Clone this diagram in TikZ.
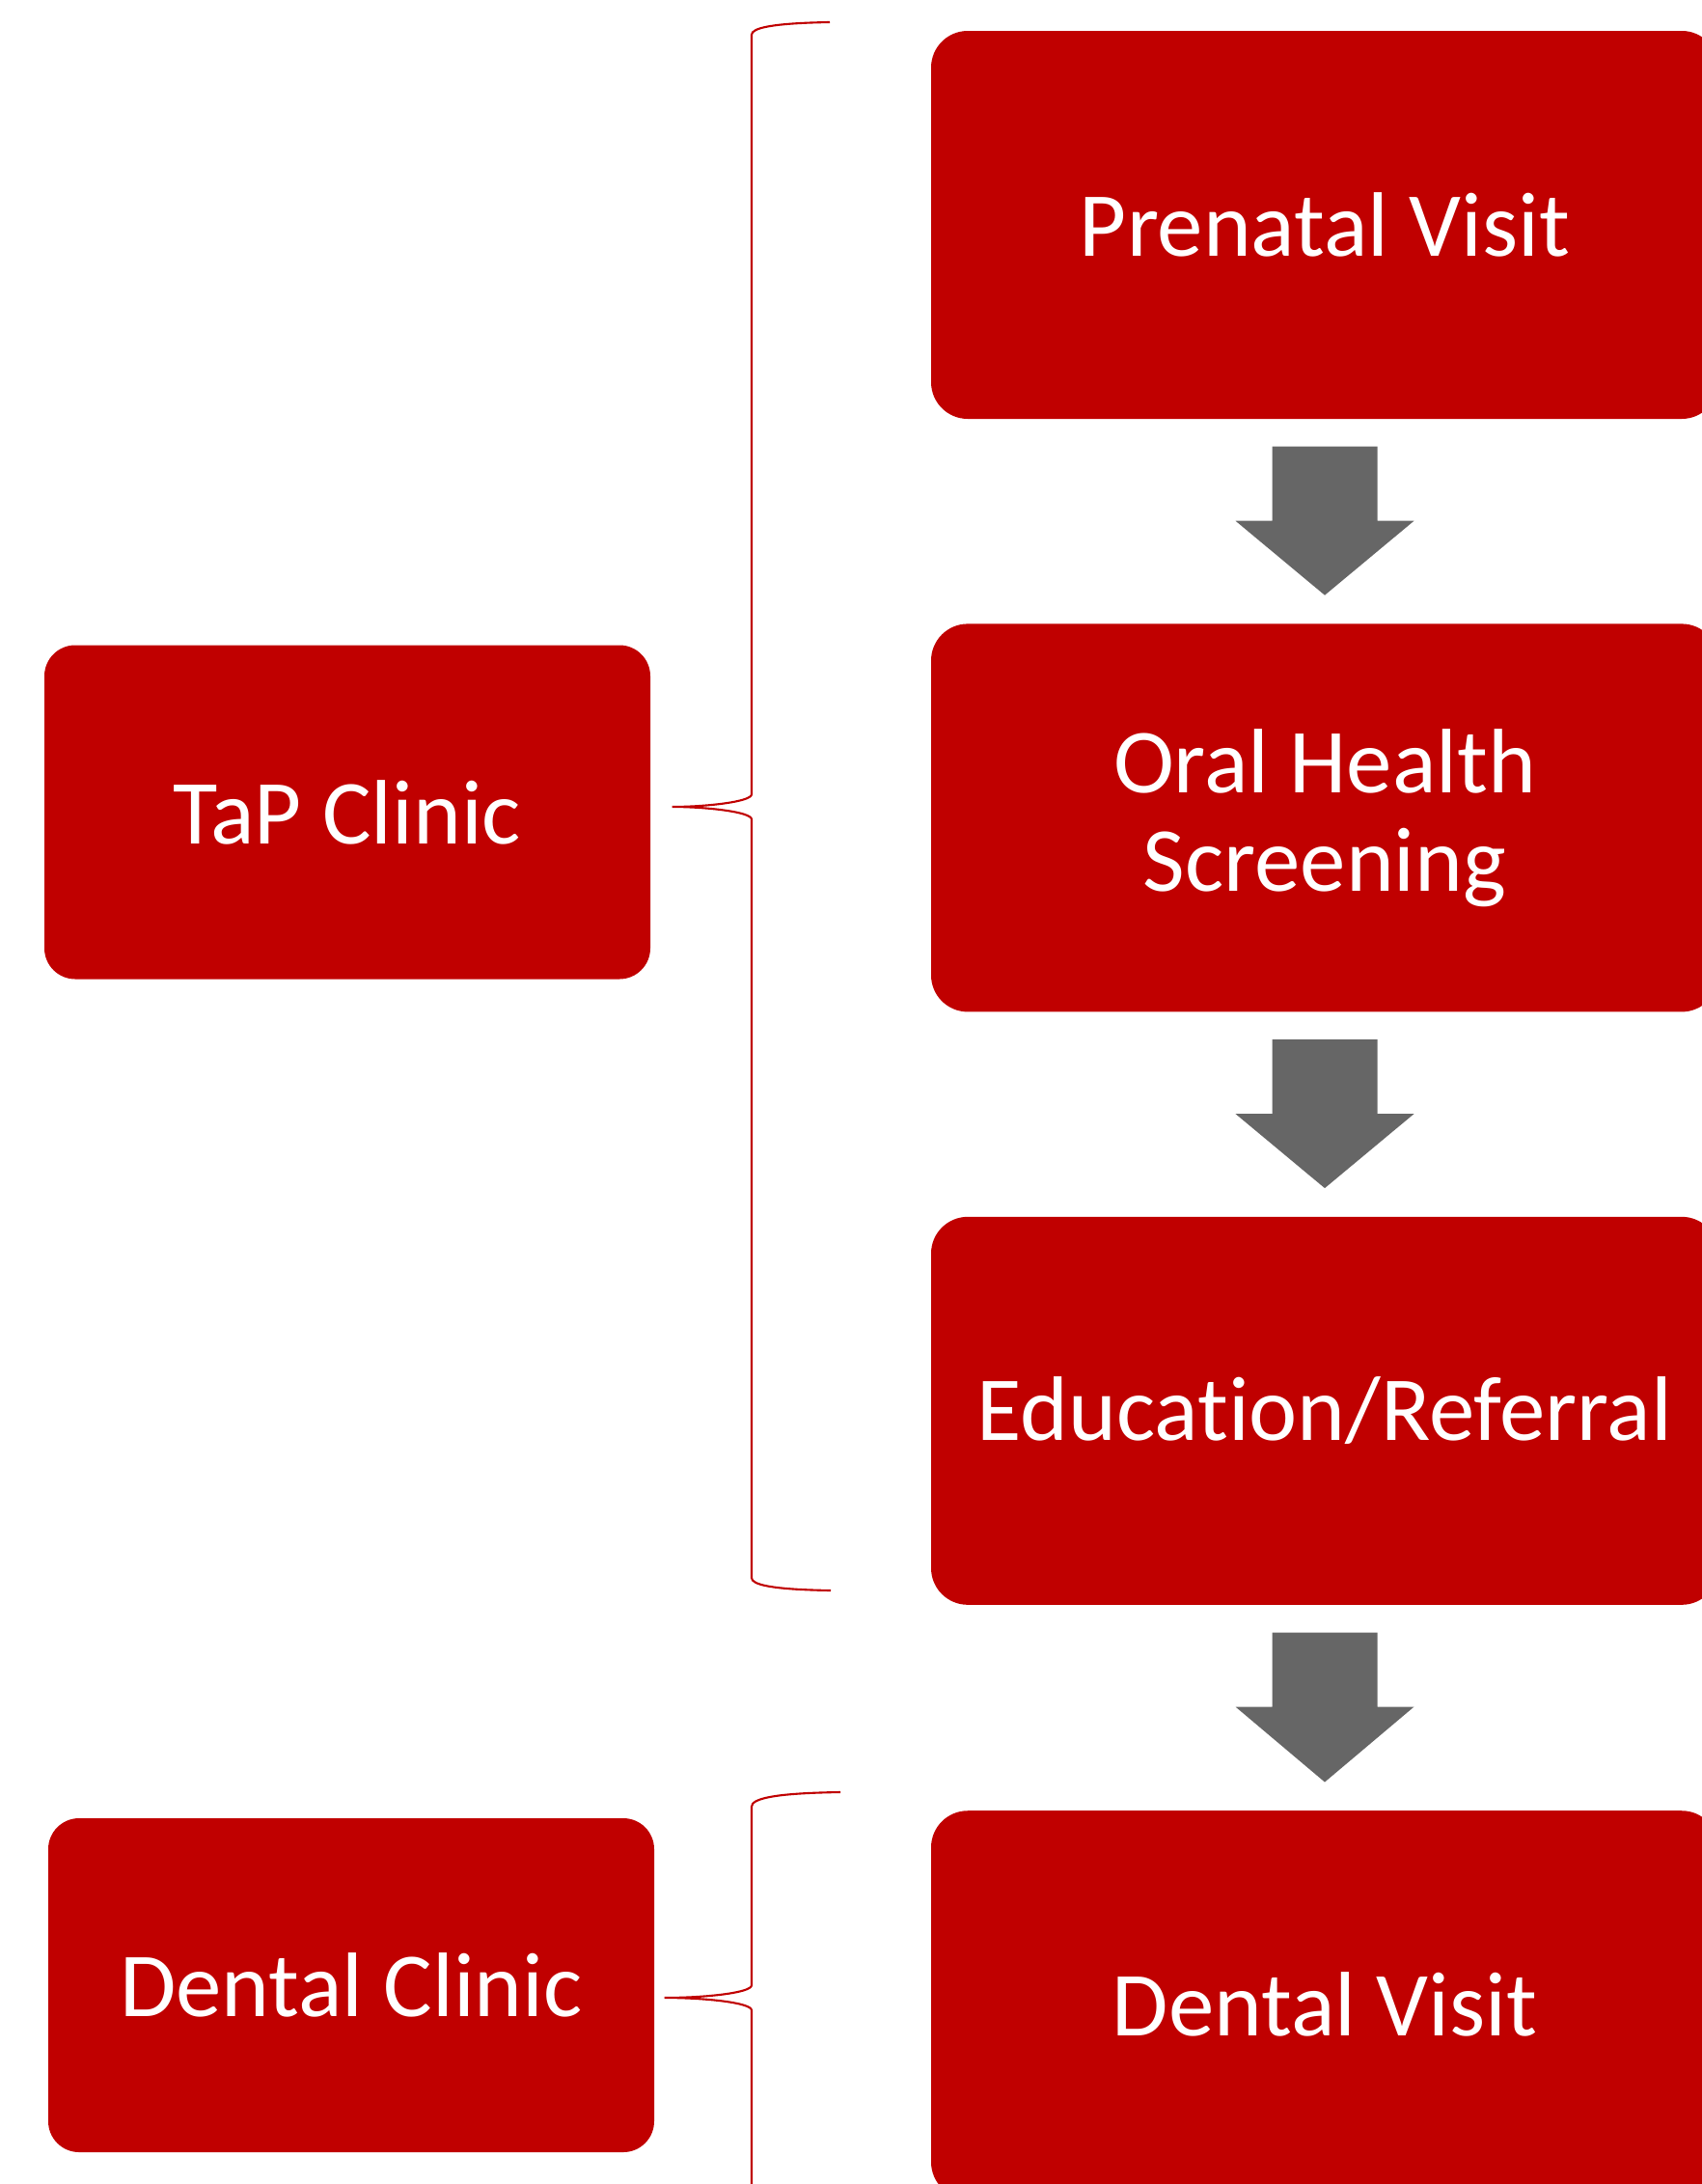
\documentclass[tikz,border=0pt]{standalone}
\usepackage{fontspec}
\setmainfont[Ligatures=NoCommon]{Carlito}
\usepackage{tikz}
\usepackage{xcolor}
\usetikzlibrary{positioning,calc}
\definecolor{clinicred}{RGB}{192,0,0}
\definecolor{arrowgray}{RGB}{102,102,102}

\tikzset{
    stepbox/.style={rectangle, rounded corners=0.38cm, fill=clinicred, text=white,
        minimum width=8.16cm, minimum height=4.02cm, inner sep=0pt, align=center,
        font=\fontsize{27pt}{29pt}\selectfont},
    clinicbox/.style={stepbox, rounded corners=0.32cm, minimum width=6.28cm, minimum height=3.46cm},
    bracket/.style={draw=clinicred, line width=0.6pt},
    flowarrow/.style={fill=arrowgray}
}

\begin{document}
\begin{tikzpicture}
    \useasboundingbox (0,0) rectangle (17.63,-22.63);

    % Patient steps (right column)
    \node[stepbox] (prenatal) at (13.73,-2.33) {Prenatal Visit};
    \node[stepbox, below=2.11cm of prenatal] (screening) {Oral Health\\Screening};
    \node[stepbox, below=2.11cm of screening] (education) {Education/Referral};
    \node[stepbox, below=2.12cm of education] (dentalvisit) {Dental Visit};

    % Clinics (left column)
    \node[clinicbox] (tap) at (3.60,-8.415) {TaP Clinic};
    \node[clinicbox] (dentalclinic) at (3.64,-20.57) {Dental Clinic};

    % Block arrows between steps
    \foreach \a/\b in {prenatal/screening, screening/education, education/dentalvisit} {
        \fill[flowarrow] ($(\a.south)+(-0.545,-0.28)$) -- ++(1.09,0) -- ++(0,-0.77)
            -- ++(0.38,0) -- ($(\b.north)+(0,0.29)$) -- ($(\a.south)+(-0.925,-1.05)$)
            -- ++(0.38,0) -- cycle;
    }

    % Braces
    \coordinate (tapTip) at ($(tap.east)+(0.22,0.055)$);
    \coordinate (tapTop) at (8.60,-0.23);
    \coordinate (tapBot) at (8.61,-16.48);
    \draw[bracket] (tapTop) .. controls (8.0,-0.24) and (7.79,-0.29) .. (7.79,-0.36)
        -- (7.79,-8.23) .. controls (7.79,-8.31) and (7.3,-8.36) .. (tapTip)
        .. controls (7.3,-8.36) and (7.79,-8.41) .. (7.79,-8.49)
        -- (7.79,-16.35) .. controls (7.79,-16.42) and (8.0,-16.47) .. (tapBot);

    \coordinate (dentalTip) at ($(dentalclinic.east)+(0.10,-0.13)$);
    \coordinate (dentalTop) at (8.71,-18.57);
    \coordinate (dentalBot) at (7.79,-23.0);
    \draw[bracket] (dentalTop) .. controls (8.0,-18.58) and (7.79,-18.64) .. (7.79,-18.72)
        -- (7.79,-20.57) .. controls (7.79,-20.65) and (7.3,-20.70) .. (dentalTip)
        .. controls (7.3,-20.70) and (7.79,-20.75) .. (7.79,-20.83)
        -- (dentalBot);

\end{tikzpicture}
\end{document}
